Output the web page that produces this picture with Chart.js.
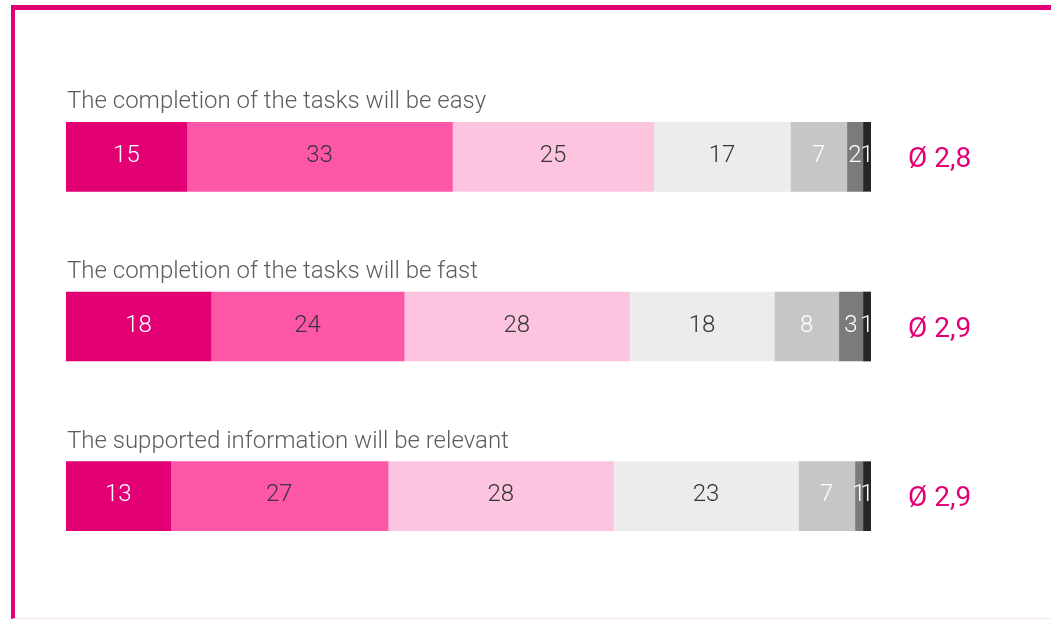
<!DOCTYPE html>
<html>
<head>
<meta charset="utf-8">
<script src="https://cdn.jsdelivr.net/npm/chart.js@4/dist/chart.umd.min.js"></script>
<style>
    html, body { margin: 0; padding: 0; background: #ffffff; width: 1051px; height: 619px; overflow: hidden; }
    #frame {
        position: absolute; left: 11px; top: 5px; width: 1045px; height: 608px;
        border-top: 5px solid #e20074; border-left: 4px solid #e20074; border-bottom: 1px solid #fbe3ef;
    }
    #chart { position: absolute; left: 0; top: 0; }
</style>
</head>
<body>
<div id="frame"></div>
<canvas id="chart" width="1051" height="619"></canvas>
<script>
const statements = [
    "The completion of the tasks will be easy",
    "The completion of the tasks will be fast",
    "The supported information will be relevant"
];
// share of answers per scale point (1 = fully agree ... 7 = fully disagree)
const level1 = [15, 18, 13];
const level2 = [33, 24, 27];
const level3 = [25, 28, 28];
const level4 = [17, 18, 23];
const level5 = [7, 8, 7];
const level6 = [2, 3, 1];
const level7 = [1, 1, 1];
const averages = [2.8, 2.9, 2.9];

const levels = [level1, level2, level3, level4, level5, level6, level7];
const fills = ["#e20074", "#ff57a8", "#fdc4e0", "#ececec", "#c6c6c6", "#7b7b7b", "#262626"];
const textColors = ["#ffffff", "#333333", "#333333", "#333333", "#ffffff", "#ffffff", "#ffffff"];

const labelPlugin = {
    id: "labels",
    afterDatasetsDraw(chart) {
        const ctx = chart.ctx;
        const area = chart.chartArea;
        ctx.save();
        ctx.textBaseline = "middle";

        // values inside the segments
        ctx.font = "300 24px Roboto";
        ctx.textAlign = "center";
        chart.data.datasets.forEach((ds, di) => {
            const meta = chart.getDatasetMeta(di);
            meta.data.forEach((bar, i) => {
                ctx.fillStyle = textColors[di];
                ctx.fillText(ds.data[i], (bar.x + bar.base) / 2, bar.y - 1);
            });
        });

        // statement above each bar, average on the right
        const first = chart.getDatasetMeta(0);
        first.data.forEach((bar, i) => {
            const top = bar.y - bar.height / 2;
            ctx.textAlign = "left";
            ctx.fillStyle = "#5c5c5c";
            ctx.font = "300 24px Roboto";
            ctx.fillText(statements[i], area.left + 1, top - 20);

            ctx.fillStyle = "#e20074";
            ctx.font = "400 28px Roboto";
            ctx.fillText("Ø " + averages[i].toFixed(1).replace(".", ","), area.right + 37, bar.y + 3);
        });
        ctx.restore();
    }
};

new Chart(document.getElementById("chart").getContext("2d"), {
    type: "bar",
    data: {
        labels: statements,
        datasets: levels.map((values, i) => ({
            label: "Level " + (i + 1),
            data: values,
            backgroundColor: fills[i],
            borderWidth: 0,
            barThickness: 69
        }))
    },
    options: {
        indexAxis: "y",
        responsive: false,
        animation: false,
        layout: { padding: { left: 66, right: 180, top: 72, bottom: 38 } },
        plugins: { legend: { display: false }, tooltip: { enabled: false } },
        scales: {
            x: { stacked: true, min: 0, max: 100, display: false },
            y: { stacked: true, display: false }
        }
    },
    plugins: [labelPlugin]
});
</script>
</body>
</html>
